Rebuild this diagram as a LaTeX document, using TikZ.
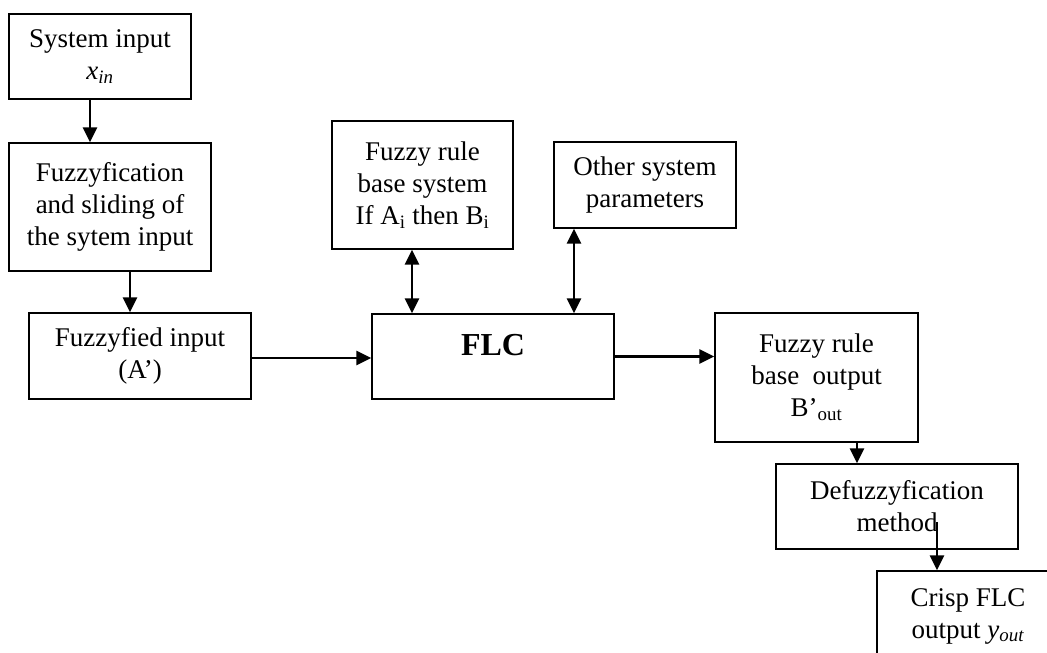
\documentclass[tikz,border=0pt]{standalone}
\usepackage{fontspec}
\setmainfont{Liberation Serif}
\usetikzlibrary{arrows.meta}
\begin{document}
\begin{tikzpicture}[x=1pt,y=-1pt,
  box/.style={draw,line width=1.4pt,align=center,inner sep=0pt,font=\fontsize{27}{32}\selectfont},
  arr/.style={line width=2.8pt,-{Triangle[width=14pt,length=15pt]}},
  darr/.style={line width=2.8pt,{Triangle[width=14pt,length=15pt]}-{Triangle[width=14pt,length=15pt]}}]
\useasboundingbox (0,0) rectangle (1047,653);
\clip (0,0) rectangle (1047,653);

\node[box,minimum width=182pt,minimum height=85pt] (sysin) at (100,56.5) {System input\\\textit{x}\textsubscript{\textit{in}}};
\node[box,minimum width=202pt,minimum height=128pt] (fuzz) at (110,207) {Fuzzyfication\\and sliding of\\the sytem input};
\node[box,minimum width=222pt,minimum height=86pt] (fin) at (140,356) {Fuzzyfied input\\(A’)};
\node[box,minimum width=181pt,minimum height=128pt] (rule) at (422.5,185) {Fuzzy rule\\base system\\If A\textsubscript{i} then B\textsubscript{i}};
\node[box,minimum width=182pt,minimum height=86pt] (other) at (645,185) {Other system\\parameters};
\node[box,minimum width=242pt,minimum height=85pt] (flc) at (493,356.5) {};
\node[anchor=base,inner sep=0pt,font=\fontsize{32}{36}\selectfont\bfseries] (flct) at (493,355) {FLC};
\node[box,minimum width=203pt,minimum height=129pt] (rbo) at (816.5,377.5) {Fuzzy rule\\base~ output\\B’\textsubscript{out}};
\node[box,minimum width=242pt,minimum height=85pt] (defuzz) at (897,506.5) {Defuzzyfication\\method};
\node[box,minimum width=182pt,minimum height=90pt] (crisp) at (968,616) {Crisp FLC\\output \textit{y}\textsubscript{\textit{out}}};

\draw[arr] ([xshift=-10pt]sysin.south) -- ([xshift=-10pt]sysin.south |- fuzz.north);
\draw[arr] ([xshift=20pt]fuzz.south) -- ([xshift=20pt]fuzz.south |- fin.north);
\draw[darr] ([xshift=-10.5pt]rule.south) -- ([xshift=-10.5pt]rule.south |- flc.north);
\draw[darr] ([xshift=-71pt]other.south) -- ([xshift=-71pt]other.south |- flc.north);
\draw[arr] ([yshift=-2pt]fin.east) -- ([yshift=-2pt]fin.east -| flc.west);
\draw[arr] (flc.east) -- (flc.east -| rbo.west);
\draw[arr] ([xshift=40.5pt]rbo.south) -- ([xshift=40.5pt]rbo.south |- defuzz.north);
\draw[arr] ([xshift=40pt,yshift=-15.5pt]defuzz.center) -- ([xshift=40pt]defuzz.center |- crisp.north);
\end{tikzpicture}
\end{document}
